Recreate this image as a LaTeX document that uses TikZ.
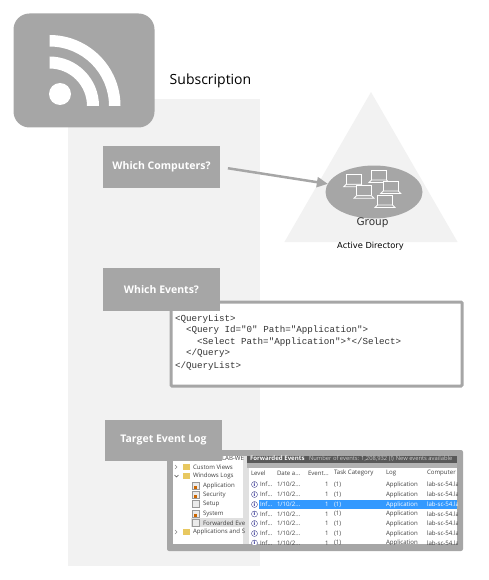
\documentclass[tikz,border=0pt]{standalone}
\usepackage{fontspec}
\setmainfont{Open Sans}
\newfontfamily\adfont{DejaVu Sans}
\newfontfamily\xmlfont{Liberation Mono}
\usepackage{tikz}
\usetikzlibrary{arrows.meta,positioning,shapes.geometric}
\definecolor{boxgray}{HTML}{A6A6A6}
\definecolor{panelgray}{HTML}{F2F2F2}
\definecolor{rowblue}{HTML}{3399FF}
\definecolor{folder}{HTML}{E8C860}
\newcommand{\fs}[1]{\fontsize{#1}{#1}\selectfont}
\newcommand{\cut}{{.}{.}{.}}
\tikzset{laptop/.pic={
  \draw[white, line width=0.8pt, fill=boxgray] (-7.5,-5) rectangle (7.5,5);
  \draw[white, line width=0.8pt, fill=boxgray] (-7.5,5) -- (7.5,5) -- (10,7.5) -- (-10,7.5) -- cycle;
}}
\begin{document}
\begin{tikzpicture}[x=1pt, y=-1pt, >=Latex,
  every node/.style={inner sep=0pt, outer sep=0pt},
  step box/.style={fill=boxgray, text=white, font=\fs{10.5}\bfseries, minimum width=117pt, minimum height=42pt},
  tree/.style={anchor=west, text=black!75, font=\fs{6.1}},
  cell/.style={anchor=west, font=\fs{6.1}},
  info/.style={circle, draw=blue!40!black!70, fill=white, minimum size=6pt, text=blue!50!black, font=\fs{5}\bfseries}]
\useasboundingbox (0,0) rectangle (488,580);
\fill[panelgray] (68,99) rectangle (260,566);

% feed icon
\node[fill=boxgray, rounded corners=16pt, minimum width=141pt, minimum height=114pt] (feed) at (84,70.5) {};
\fill[white] (60,94) circle (11);
\fill[white] (49.5,106) ++(0,-71) arc[start angle=90, end angle=0, radius=71pt] -- ++(-11.5,0) arc[start angle=0, end angle=90, radius=59.5pt] -- cycle;
\fill[white] (49.5,106) ++(0,-49.5) arc[start angle=90, end angle=0, radius=49.5pt] -- ++(-12,0) arc[start angle=0, end angle=90, radius=37.5pt] -- cycle;
\node[font=\fs{14}] (subscription) at (210.5,80.5) {Subscription};

% directory
\node[fill=panelgray, isosceles triangle, isosceles triangle apex angle=60, shape border rotate=90, minimum height=150pt, anchor=north] (directory) at (371,92) {};
\node[ellipse, fill=boxgray, minimum width=97pt, minimum height=53pt] (group) at (374,192) {};
\pic at (353.7,179.3) {laptop};
\pic at (379,175) {laptop};
\pic at (390.7,186) {laptop};
\pic at (364,190.7) {laptop};
\pic at (385,200) {laptop};
\node[font=\adfont\fs{10.5}, text=black!80] (grouplabel) at (372.5,223) {Group};
\node[font=\adfont\fs{8.3}, text=black] (adlabel) at (370.5,246.5) {Active Directory};

% xml query
\node[draw=boxgray, line width=3pt, fill=white, rounded corners=1pt, minimum width=291pt, minimum height=84pt] (query) at (316.5,344) {};
\node[anchor=north west, align=left, font=\xmlfont\fontsize{9.2}{11.3}\selectfont, text=black!80] (querytext) at (175,315) {%
  <QueryList>\\
  \hspace{11pt}<Query Id="0" Path="Application">\\
  \hspace{22pt}<Select Path="Application">*</Select>\\
  \hspace{11pt}</Query>\\[2pt]
  </QueryList>};

% event viewer
\node[fill=boxgray, rounded corners=2pt, minimum width=296pt, minimum height=101pt] (viewer) at (315,500.5) {};
\fill[white] (173,456) rectangle (457,544);
\begin{scope}
\clip (173,456) rectangle (457,544);
\fill[black!12] (243,456) rectangle (249,544);
\fill[black!65] (247,455) rectangle (457,462.5);
\fill[black!30] (247,462.5) rectangle (457,468);
\fill[white] (249,468) rectangle (457,544);
\fill[black!12] (191,518) rectangle (243,527);
\fill[rowblue] (259,500) rectangle (457,509);
\node[tree] (machine) at (222,458) {LAB-WE};
\foreach \x/\y/\t in {193/467/Custom Views, 193/476/Windows Logs, 203/486/Application, 203/495/Security, 203/504/Setup, 203/514/System, 203/523/Forwarded Eve, 193/532/Applications and S}
  \node[tree] at (\x,\y) {\t};
\foreach \y in {467,476,532}
  \fill[folder] (182.5,\y-3) rectangle ++(7.5,6);
\foreach \y in {486,495,504,514,523}
  \draw[black!40, fill=black!8, line width=0.4pt] (192.5,\y-3.5) rectangle ++(7,7);
\foreach \y in {486,495,514}
  \fill[orange!80!black] (193.5,\y-0.5) rectangle ++(3,3);
\draw[black!45, line width=0.4pt] (175,465) -- (177,467) -- (175,469) (175,530) -- (177,532) -- (175,534);
\draw[black!70, line width=0.4pt] (174.5,475) -- (176.5,477) -- (178.5,475);
\foreach \x/\t in {251/Level, 277/Date a\cut, 308/Event\cut, 334/Task Category, 386/Log, 427/Computer}
  \node[cell, text=black!75] at (\x,473) {\t};
\foreach \y/\c in {484.5/black!75, 494.5/black!75, 504.5/white, 514/black!75, 523.5/black!75, 533.5/black!75, 543/black!75} {
  \node[info] at (254.5,\y) {i};
  \node[cell, text=\c] at (260,\y) {Inf\cut};
  \node[cell, text=\c] at (277,\y) {1/10/2\cut};
  \node[cell, text=\c] at (325,\y) {1};
  \node[cell, text=\c] at (334,\y) {(1)};
  \node[cell, text=\c] at (386,\y) {Application};
  \node[cell, text=\c] at (427,\y) {lab-sc-54.la};
}
\end{scope}
\node[anchor=west, font=\fs{6.1}\bfseries, text=white] (viewertitle) at (250,458.7) {Forwarded Events};
\node[anchor=west, font=\fs{5.8}, text=black!20] (viewercount) at (309,458.7) {Number of events: 1,208,932 (!) New events available};

% step boxes
\node[step box] (computers) at (161.5,167) {Which Computers?};
\node[step box, minimum height=43pt] (events) at (161.5,289.5) {Which Events?};
\node[step box, minimum height=41pt] (target) at (163.5,440.5) {Target Event Log};
\draw[draw=boxgray, line width=2.5pt, shorten <=8pt, -{Triangle[length=11pt, width=10pt]}] (computers.east) -- (group.170);
\end{tikzpicture}
\end{document}
